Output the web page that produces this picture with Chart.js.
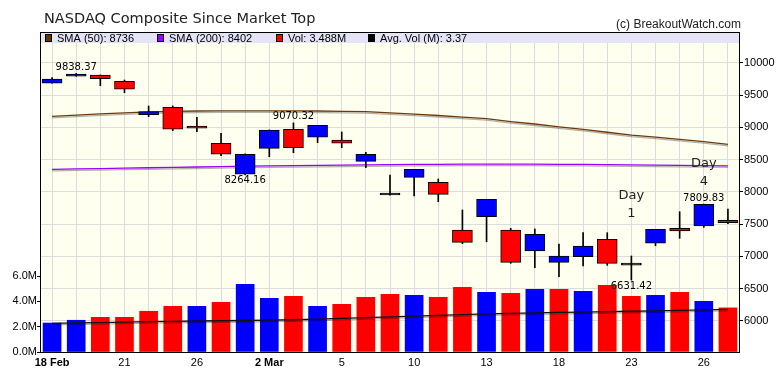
<!DOCTYPE html>
<html>
<head>
<meta charset="utf-8">
<script src="https://cdn.jsdelivr.net/npm/chart.js@4/dist/chart.umd.min.js"></script>
<style>
  html, body { margin: 0; padding: 0; background: #fff; }
  #wrap { width: 780px; height: 378px; }
</style>
</head>
<body>
<div id="wrap"><canvas id="chart" width="780" height="378"></canvas></div>
<script>
// Trading days, 18 Feb - 27 Mar
const dates = ['18 Feb', '19', '20', '21', '24', '25', '26', '27', '28',
  '2 Mar', '3', '4', '5', '6', '9', '10', '11', '12', '13', '16', '17', '18',
  '19', '20', '23', '24', '25', '26', '27'];
const labeledDays = [0, 3, 6, 9, 12, 15, 18, 21, 24, 27];

// OHLC
const open  = [9685, 9794, 9814, 9716, 9198, 9312, 9022, 8754, 8273, 8676, 8971, 8847, 8805, 8474, 7957,
  8226, 8148, 7408, 7615, 7408, 7082, 6907, 6994, 7264, 6870, 7202, 7435, 7470, 7559];
const high  = [9772, 9838.37, 9814, 9736, 9333, 9333, 9157, 8909, 8590, 8960, 9070.32, 9033, 8929, 8614, 8262,
  8350, 8200, 7719, 7885, 7435, 7424, 7191, 7367, 7367, 7005, 7419, 7692, 7809.83, 7734];
const low   = [9685, 9794, 9648, 9539, 9167, 8949, 8934, 8561, 8264.16, 8546, 8608, 8763, 8686, 8375, 7947,
  7936, 7847, 7196, 7227, 6891, 6823, 6683, 6849, 6860, 6631.42, 7164, 7279, 7450, 7506];
const close = [9752, 9829, 9756, 9592, 9244, 8971, 8987, 8583, 8583, 8960, 8686, 9033, 8754, 8583, 7951,
  8350, 7962, 7217, 7885, 6907, 7341, 7005, 7160, 6891, 6862, 7419, 7393, 7807, 7522];

const sma50  = [9170, 9190, 9210, 9225, 9240, 9250, 9255, 9258, 9258, 9258, 9258, 9255, 9250, 9245, 9225,
  9205, 9185, 9160, 9135, 9090, 9053, 9010, 8971, 8925, 8880, 8850, 8816, 8780, 8736];
const sma200 = [8350, 8356, 8362, 8368, 8374, 8380, 8386, 8392, 8398, 8404, 8408, 8412, 8416, 8419, 8422,
  8425, 8427, 8429, 8430, 8430, 8430, 8428, 8425, 8422, 8418, 8414, 8410, 8406, 8402];

// volume in millions, and whether the close was up on the day
const volume = [2.29, 2.51, 2.74, 2.74, 3.22, 3.61, 3.61, 3.93, 5.35, 4.24, 4.40, 3.61, 3.77, 4.32, 4.56,
  4.48, 4.32, 5.11, 4.72, 4.64, 4.96, 4.96, 4.80, 5.27, 4.40, 4.48, 4.72, 4.01, 3.488];
const volUp = [1, 1, 0, 0, 0, 0, 1, 0, 1, 1, 0, 1, 0, 0, 0, 1, 0, 0, 1, 0, 1, 0, 1, 0, 0, 1, 0, 1, 0];
const avgVol = [2.27, 2.30, 2.33, 2.36, 2.40, 2.42, 2.45, 2.47, 2.49, 2.52, 2.55, 2.60, 2.66, 2.72, 2.78,
  2.84, 2.90, 2.96, 3.01, 3.06, 3.10, 3.13, 3.16, 3.19, 3.22, 3.25, 3.29, 3.33, 3.37];

const priceTicks = [6000, 6500, 7000, 7500, 8000, 8500, 9000, 9500, 10000];
const volTicks = [0, 2, 4, 6];

const highLabels = [1, 10, 27];
const lowLabels = [8, 24];
const dayMarkers = [{ i: 24, day: '1', lift: 42 }, { i: 27, day: '4', lift: 22 }];

const BLUE = '#0000ff', RED = '#ff0000';
const last = a => a[a.length - 1];

const bodies = open.map((o, i) => [o, close[i]]);
const wicks = low.map((l, i) => [l, high[i]]);
const bodyColor = open.map((o, i) => Math.abs(close[i] - o) < 15 ? '#000' : (close[i] >= o ? BLUE : RED));

// background, legend band, border
const frame = {
  id: 'frame',
  beforeDraw(chart) {
    const { ctx, chartArea: a } = chart;
    ctx.save();
    ctx.fillStyle = '#fffff0';
    ctx.fillRect(a.left, a.top, a.right - a.left, a.bottom - a.top);
    ctx.fillStyle = '#e4e4f6';
    ctx.fillRect(a.left, 32, a.right - a.left, a.top - 32);
    ctx.restore();
  },
  afterDraw(chart) {
    const { ctx, chartArea: a } = chart;
    ctx.save();
    ctx.strokeStyle = '#000';
    ctx.lineWidth = 1;
    ctx.strokeRect(a.left + 0.5, 32.5, a.right - a.left - 1, a.bottom - 32);

    ctx.fillStyle = '#222';
    ctx.font = '14.5px "DejaVu Sans"';
    ctx.textBaseline = 'alphabetic';
    ctx.fillText('NASDAQ Composite Since Market Top', 44, 23);
    ctx.font = '12px "Liberation Sans"';
    ctx.textAlign = 'right';
    ctx.fillText('(c) BreakoutWatch.com', 741, 28);

    const items = [
      ['#663300', 'SMA (50): ' + last(sma50), 45],
      ['#9900ff', 'SMA (200): ' + last(sma200), 157],
      [RED, 'Vol: ' + last(volume) + 'M', 276],
      ['#000', 'Avg. Vol (M): ' + last(avgVol), 368]
    ];
    ctx.textAlign = 'left';
    ctx.font = '11px "Liberation Sans"';
    items.forEach(([c, t, x]) => {
      ctx.fillStyle = c;
      ctx.fillRect(x, 35, 6, 6);
      ctx.strokeStyle = '#000';
      ctx.strokeRect(x + 0.5, 34.5, 6, 7);
      ctx.fillStyle = '#000';
      ctx.fillText(t, x + 12, 41.5);
    });
    ctx.restore();
  }
};

// price labels and day markers
const notes = {
  id: 'notes',
  afterDatasetsDraw(chart) {
    const { ctx } = chart;
    const xs = chart.scales.x, ys = chart.scales.yp;
    ctx.save();
    ctx.fillStyle = '#000';
    ctx.textAlign = 'center';
    ctx.font = '10px "DejaVu Sans"';
    ctx.textBaseline = 'bottom';
    highLabels.forEach(i => ctx.fillText(high[i].toFixed(2), xs.getPixelForValue(i), ys.getPixelForValue(high[i]) - 1));
    ctx.textBaseline = 'top';
    lowLabels.forEach(i => ctx.fillText(low[i].toFixed(2), xs.getPixelForValue(i), ys.getPixelForValue(low[i]) + 1));
    ctx.fillStyle = '#222';
    ctx.font = '13px "DejaVu Sans"';
    ctx.textBaseline = 'middle';
    dayMarkers.forEach(m => {
      const x = xs.getPixelForValue(m.i), y = ys.getPixelForValue(high[m.i]) - m.lift;
      ctx.fillText(m.day, x, y);
      ctx.fillText('Day', x, y - 18);
    });
    ctx.restore();
  }
};

// soft shadow under the line series
const lineShade = {
  id: 'lineShade',
  beforeDatasetDraw(chart, args) {
    if (chart.data.datasets[args.index].type !== 'line') return;
    const ctx = chart.ctx;
    ctx.save();
    ctx.shadowColor = 'rgba(0,0,0,0.3)';
    ctx.shadowOffsetY = 1.5;
    ctx.shadowBlur = 0;
  },
  afterDatasetDraw(chart, args) {
    if (chart.data.datasets[args.index].type !== 'line') return;
    chart.ctx.restore();
  }
};

const tickFont = { family: 'Liberation Sans', size: 11 };

new Chart(document.getElementById('chart'), {
  type: 'bar',
  data: {
    labels: dates,
    datasets: [
      {
        label: 'Body', data: bodies, yAxisID: 'yp', grouped: false, order: 1,
        barThickness: 20, minBarLength: 2, borderSkipped: false, borderWidth: 1, borderColor: '#000',
        backgroundColor: bodyColor
      },
      {
        label: 'Wick', data: wicks, yAxisID: 'yp', grouped: false, order: 2,
        barThickness: 1, borderWidth: 0, backgroundColor: '#000'
      },
      {
        type: 'line', label: 'SMA (50)', data: sma50, yAxisID: 'yp', order: 3,
        borderColor: '#6b3a0f', borderWidth: 1.3, pointRadius: 0, tension: 0
      },
      {
        type: 'line', label: 'SMA (200)', data: sma200, yAxisID: 'yp', order: 3,
        borderColor: '#9900ff', borderWidth: 1.3, pointRadius: 0, tension: 0
      },
      {
        type: 'line', label: 'Avg. Vol', data: avgVol, yAxisID: 'yv', order: 4,
        borderColor: '#111', borderWidth: 1.3, pointRadius: 0, tension: 0
      },
      {
        label: 'Vol', data: volume, yAxisID: 'yv', grouped: false, order: 5,
        barThickness: 18, borderWidth: 0,
        backgroundColor: volUp.map(u => u ? BLUE : RED)
      }
    ]
  },
  options: {
    responsive: false,
    animation: false,
    layout: { padding: { top: 43, left: 0, right: 0, bottom: 0 } },
    plugins: { legend: { display: false }, tooltip: { enabled: false } },
    scales: {
      x: {
        offset: true,
        grid: { offset: false, color: '#dcdcdc', drawTicks: false },
        border: { display: false },
        ticks: {
          autoSkip: false, maxRotation: 0, padding: 4, color: '#000',
          font: c => ({ ...tickFont, weight: /[A-Za-z]/.test(dates[c.index]) ? 'bold' : 'normal' }),
          callback: (v, i) => labeledDays.includes(i) ? dates[i] : ''
        },
        afterFit: s => { s.height = 26; }
      },
      yp: {
        position: 'right', min: 5515, max: 10310,
        afterBuildTicks: s => { s.ticks = priceTicks.map(v => ({ value: v })); },
        grid: { color: '#dcdcdc', tickColor: '#000', tickLength: 3 },
        border: { display: false },
        ticks: { color: '#000', font: tickFont, padding: 1, callback: v => String(v) },
        afterFit: s => { s.width = 40; }
      },
      yv: {
        position: 'left', min: 0, max: 24.43,
        afterBuildTicks: s => { s.ticks = volTicks.map(v => ({ value: v })); },
        grid: { drawOnChartArea: false, tickColor: '#000', tickLength: 3 },
        border: { display: false },
        ticks: { color: '#000', font: tickFont, padding: 0, callback: v => v.toFixed(1) + 'M' },
        afterFit: s => { s.width = 40; }
      }
    }
  },
  plugins: [frame, lineShade, notes]
});
</script>
</body>
</html>
